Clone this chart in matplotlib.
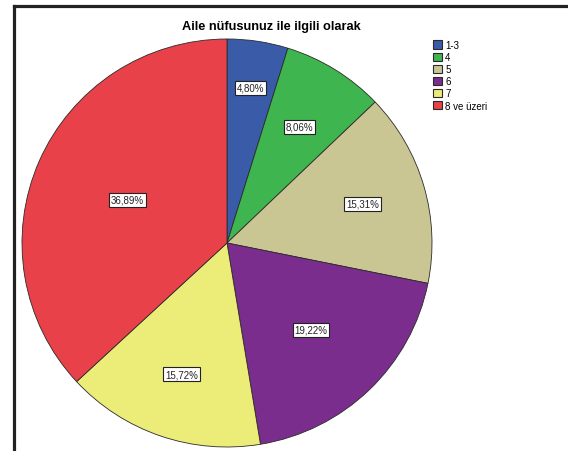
import matplotlib
matplotlib.use("Agg")
import matplotlib.pyplot as plt
from matplotlib.lines import Line2D
import numpy as np

categories = ["1-3", "4", "5", "6", "7", "8 ve üzeri"]
values = [4.80, 8.06, 15.31, 19.22, 15.72, 36.89]
labels = ["4,80%", "8,06%", "15,31%", "19,22%", "15,72%", "36,89%"]
colors = ["#3a5ba8", "#3fb54f", "#c9c694", "#7a2d8c", "#ecec78", "#e8414a"]
label_radius = [0.77, 0.67, 0.69, 0.59, 0.68, 0.53]
title = "Aile nüfusunuz ile ilgili olarak"

plt.rcParams['font.family'] = ['Liberation Sans', 'DejaVu Sans']

W, H = 568, 452
fig = plt.figure(figsize=(W / 100, H / 100), dpi=100)

cx, cy, rx, ry = 227, 244, 205, 204
ax = fig.add_axes([(cx - rx) / W, 1 - (cy + ry) / H, 2 * rx / W, 2 * ry / H])

wedges, _ = ax.pie(values, colors=colors, startangle=90, counterclock=False,
                   wedgeprops=dict(edgecolor="#2a2a2a", linewidth=0.6))
ax.set_aspect('auto')
ax.set_xlim(-1, 1)
ax.set_ylim(-1, 1)
ax.axis('off')

for w, lab, r in zip(wedges, labels, label_radius):
    ang = np.deg2rad((w.theta1 + w.theta2) / 2)
    ax.text(r * np.cos(ang), r * np.sin(ang), lab, ha='center', va='center', fontsize=7,
            color='#222222',
            bbox=dict(boxstyle='square,pad=0.2', facecolor='white', edgecolor='#222222', linewidth=0.8))

fig.text(271 / W, 1 - 27 / H, title, ha='center', va='center', fontsize=9.2, fontweight='bold')

leg = fig.legend(wedges, categories, loc='upper left', bbox_to_anchor=(431 / W, 1 - 39 / H),
                 frameon=False, fontsize=7, handlelength=0.95, handleheight=0.95,
                 handletextpad=0.3, labelspacing=0.22, borderaxespad=0, borderpad=0.2)
for h in leg.legend_handles:
    h.set_edgecolor('#2a2a2a')
    h.set_linewidth(0.8)

# outer frame (left and top)
fig.add_artist(Line2D([13.5 / W, 13.5 / W], [0, 1 - 6.5 / H], transform=fig.transFigure,
                      color='#222222', linewidth=2.3, solid_capstyle='projecting'))
fig.add_artist(Line2D([13.5 / W, 1], [1 - 6.5 / H, 1 - 6.5 / H], transform=fig.transFigure,
                      color='#222222', linewidth=2.3, solid_capstyle='projecting'))

fig.savefig("out.png", dpi=100)
